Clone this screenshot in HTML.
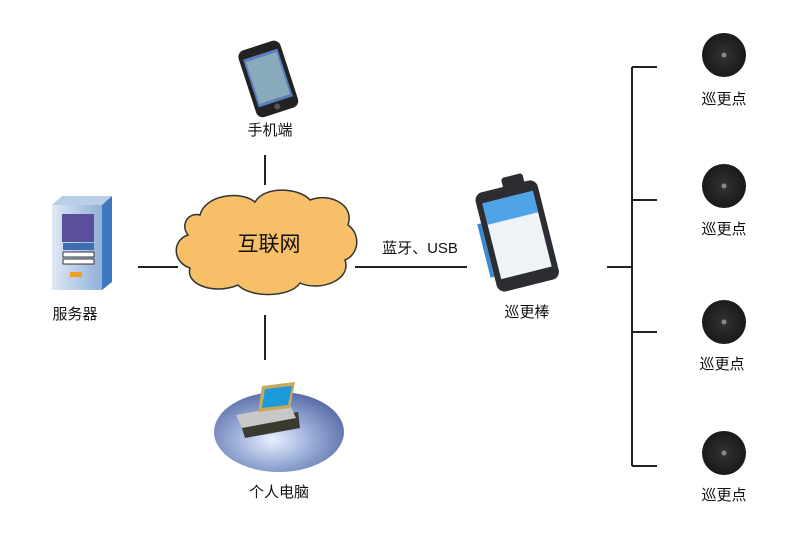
<!DOCTYPE html>
<html><head><meta charset="utf-8"><style>
body{margin:0;background:#fff;}
svg text{font-family:"Liberation Sans","Noto Sans CJK SC",sans-serif;fill:#111;}
</style></head><body>
<svg width="800" height="534" viewBox="0 0 800 534" xmlns="http://www.w3.org/2000/svg">
<defs>
<radialGradient id="eg" cx="0.45" cy="0.6" r="0.6"><stop offset="0" stop-color="#e8f0ff"/><stop offset="0.5" stop-color="#9aaed8"/><stop offset="1" stop-color="#5a6fa8"/></radialGradient>
<radialGradient id="cp" cx="0.5" cy="0.5" r="0.5"><stop offset="0" stop-color="#333"/><stop offset="1" stop-color="#1a1a1a"/></radialGradient>
<linearGradient id="sv" x1="0" x2="1"><stop offset="0" stop-color="#dfe8f5"/><stop offset="1" stop-color="#8fb0d8"/></linearGradient>
</defs>
<g stroke="#222" stroke-width="2" fill="none">
<line x1="138" y1="267" x2="178" y2="267"/>
<line x1="355" y1="267" x2="467" y2="267"/>
<line x1="265" y1="155" x2="265" y2="185"/>
<line x1="265" y1="315" x2="265" y2="360"/>
<line x1="607" y1="267" x2="632" y2="267"/>
<line x1="632" y1="67" x2="632" y2="466"/>
<line x1="632" y1="67" x2="657" y2="67"/>
<line x1="632" y1="200" x2="657" y2="200"/>
<line x1="632" y1="332" x2="657" y2="332"/>
<line x1="632" y1="466" x2="657" y2="466"/>
</g>
<path d="M200 215 C205 195 240 190 255 202 C265 185 300 188 310 200 C330 192 355 205 348 225 C362 235 358 255 345 260 C352 280 320 292 300 283 C290 298 250 298 238 285 C215 295 185 285 190 268 C172 262 172 240 188 235 C180 225 188 212 200 215 Z" fill="#f7c068" stroke="#333" stroke-width="1.5"/>
<text x="269" y="251" font-size="21" text-anchor="middle">互联网</text>
<text x="420" y="253" font-size="15" text-anchor="middle">蓝牙、USB</text>
<g transform="rotate(-18 268 78)">
<rect x="246" y="44" width="44" height="70" rx="7" fill="#222"/>
<rect x="250" y="53" width="36" height="50" fill="#5a7fc0"/>
<rect x="252" y="56" width="32" height="44" fill="#8ab"/>
<circle cx="268" cy="108" r="3" fill="#555"/>
</g>
<text x="270" y="135" font-size="15" text-anchor="middle">手机端</text>
<polygon points="52,205 62,196 112,196 102,205" fill="#b8cfe8"/>
<polygon points="102,205 112,196 112,282 102,290" fill="#3f78c0"/>
<rect x="52" y="205" width="50" height="85" fill="url(#sv)"/>
<rect x="62" y="214" width="32" height="28" fill="#5a4f9a"/>
<rect x="63" y="243" width="31" height="7" fill="#3d6fb0"/>
<rect x="63" y="252" width="31" height="5" fill="#fff" stroke="#333"/>
<rect x="63" y="259" width="31" height="5" fill="#fff" stroke="#333"/>
<rect x="70" y="272" width="12" height="5" fill="#f0a020"/>
<text x="75" y="319" font-size="15" text-anchor="middle">服务器</text>
<g transform="rotate(-14 517 235)">
<rect x="485" y="185" width="64" height="102" rx="8" fill="#2b2d33"/>
<rect x="515" y="176" width="22" height="14" rx="3" fill="#2b2d33"/>
<rect x="491" y="196" width="52" height="78" fill="#eef3f8"/>
<rect x="491" y="196" width="52" height="22" fill="#4ea3e6"/>
<rect x="481" y="215" width="4" height="55" fill="#3a8ad0"/>
</g>
<text x="527" y="317" font-size="15" text-anchor="middle">巡更棒</text>
<ellipse cx="279" cy="432" rx="65" ry="40" fill="url(#eg)"/>
<polygon points="240,422 298,412 300,428 245,438" fill="#3a3a30"/>
<polygon points="236,415 290,405 296,418 242,428" fill="#c8c8c8"/>
<polygon points="262,386 295,382 290,408 258,412" fill="#c8a860"/>
<polygon points="265,389 292,386 288,405 262,408" fill="#1a9ad8"/>
<text x="279" y="497" font-size="15" text-anchor="middle">个人电脑</text>
<g>
<circle cx="724" cy="55" r="22" fill="url(#cp)"/><circle cx="724" cy="55" r="2.5" fill="#888"/>
<circle cx="724" cy="186" r="22" fill="url(#cp)"/><circle cx="724" cy="186" r="2.5" fill="#888"/>
<circle cx="724" cy="322" r="22" fill="url(#cp)"/><circle cx="724" cy="322" r="2.5" fill="#888"/>
<circle cx="724" cy="453" r="22" fill="url(#cp)"/><circle cx="724" cy="453" r="2.5" fill="#888"/>
</g>
<g font-size="15" text-anchor="middle">
<text x="724" y="104">巡更点</text>
<text x="724" y="234">巡更点</text>
<text x="722" y="369">巡更点</text>
<text x="724" y="500">巡更点</text>
</g>
</svg>
</body></html>
